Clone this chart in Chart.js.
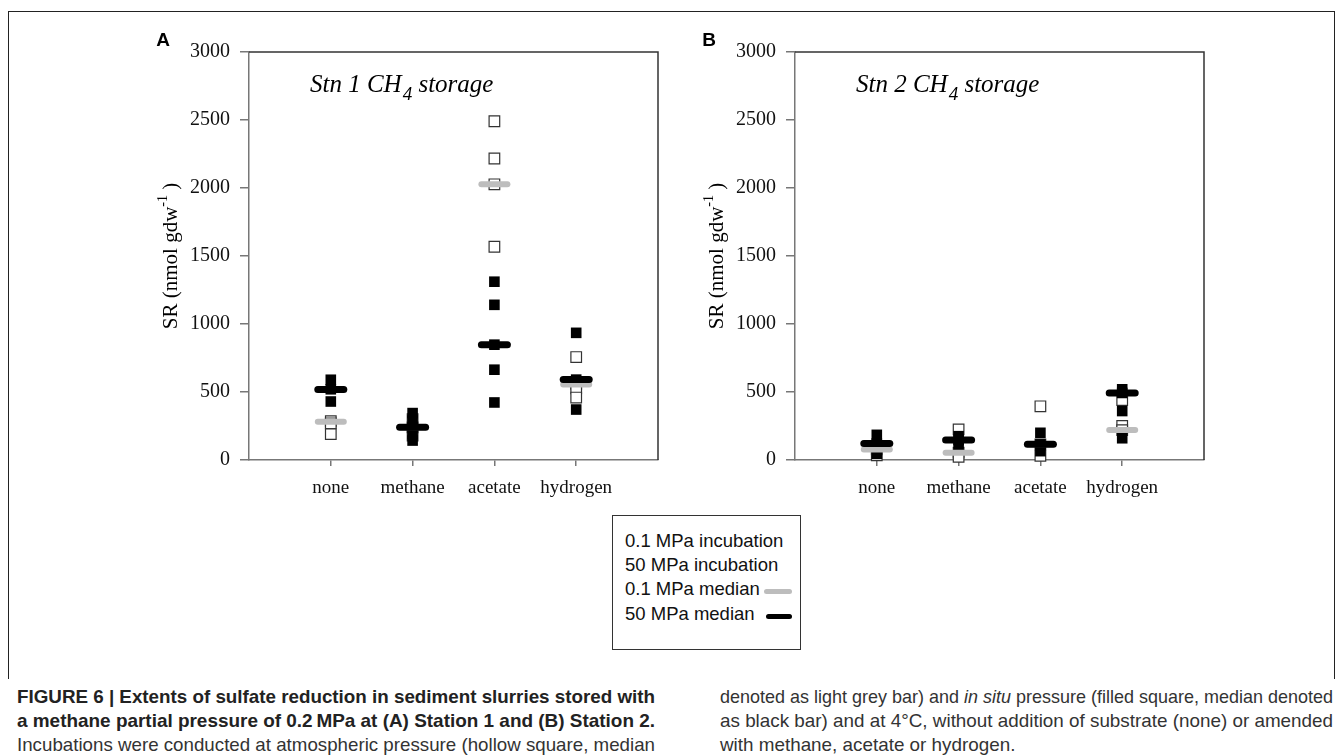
<!DOCTYPE html>
<html>
<head>
<meta charset="utf-8">
<script src="https://cdn.jsdelivr.net/npm/chart.js@4.4.1/dist/chart.umd.min.js"></script>
<style>
  body { margin: 0; background: #fff; width: 1342px; height: 756px; position: relative; overflow: hidden; }
  .frame { position: absolute; left: 8px; top: 11px; width: 1325px; height: 667px; border: 1.5px solid #222; border-bottom: none; }
  .panel { position: absolute; top: 30px; width: 560px; height: 480px; }
  .legend { position: absolute; left: 612px; top: 515px; width: 189px; height: 135px; border: 1px solid #333; box-sizing: border-box; }
  .legend span { position: absolute; left: 12px; font: 18.5px "Liberation Sans", Arial, sans-serif; color: #111; white-space: nowrap; }
  .legend i { position: absolute; height: 5px; border-radius: 3px; }
  .cap { position: absolute; font-family: "Liberation Sans", Arial, sans-serif; font-size: 19px; color: #333; line-height: 24px; }
  .cap span { display: inline-block; white-space: nowrap; transform-origin: 0 0; }
  .cap b { color: #222; }
</style>
</head>
<body>
<div class="frame"></div>
<div class="panel" style="left:120px"><canvas id="chartA"></canvas></div>
<div class="panel" style="left:666px"><canvas id="chartB"></canvas></div>

<div class="legend">
  <span style="top:14px">0.1 MPa incubation</span>
  <span style="top:38px">50 MPa incubation</span>
  <span style="top:62px">0.1 MPa median</span>
  <span style="top:87px">50 MPa median</span>
  <i style="left:151px; top:73px; width:28px; background:#bdbdbd"></i>
  <i style="left:153px; top:98px; width:26px; background:#000"></i>
</div>

<div class="cap" style="left:17px; top:685px" data-w="638">
  <span><b>FIGURE 6 | Extents of sulfate reduction in sediment slurries stored with</b></span><br>
  <span><b>a methane partial pressure of 0.2&#8239;MPa at (A) Station 1 and (B) Station 2.</b></span><br>
  <span>Incubations were conducted at atmospheric pressure (hollow square, median</span>
</div>
<div class="cap" style="left:720px; top:685px" data-w="613">
  <span>denoted as light grey bar) and <i>in situ</i> pressure (filled square, median denoted</span><br>
  <span>as black bar) and at 4°C, without addition of substrate (none) or amended</span><br>
  <span data-last="1">with methane, acetate or hydrogen.</span>
</div>

<script>
const categories = ['none', 'methane', 'acetate', 'hydrogen'];
const yTickValues = [0, 500, 1000, 1500, 2000, 2500, 3000];

// Station 1 (panel A), one list per substrate
const stn1Hollow = [[285, 270, 190], [300, 240, 180], [2491, 2217, 2027, 1568], [757, 560, 527, 459]];
const stn1Filled = [[590, 520, 430], [345, 290, 240, 190, 143], [1311, 1141, 848, 664, 423], [935, 591, 371]];
const stn1GreyMedian = [281, 240, 2027, 555];
const stn1BlackMedian = [518, 240, 848, 591];

// Station 2 (panel B)
const stn2Hollow = [[78, 35], [225, 54, 24], [395, 115, 30], [440, 250, 220]];
const stn2Filled = [[185, 122, 45], [175, 147, 100], [200, 115, 65], [520, 493, 360, 160]];
const stn2GreyMedian = [78, 54, 115, 220];
const stn2BlackMedian = [122, 147, 115, 493];

const serif = '"Liberation Serif", "Times New Roman", serif';

const toPoints = (groups) => groups.flatMap((vals, i) => vals.map((v) => ({ x: i + 1, y: v })));
const toMedians = (vals) => vals.map((v, i) => ({ x: i + 1, y: v }));

// squeeze caption lines to the justified column width (condensed look)
document.querySelectorAll('.cap').forEach((col) => {
    const target = Number(col.dataset.w);
    let last = 0.85;
    col.querySelectorAll('span').forEach((s) => {
        const k = s.dataset.last ? last : target / s.getBoundingClientRect().width;
        s.style.transform = 'scaleX(' + k + ')';
        last = k;
    });
});

const panelDeco = {
    id: 'panelDeco',
    beforeDatasetDraw(chart) {
        chart.ctx.lineCap = 'round';
    },
    afterDatasetDraw(chart) {
        chart.ctx.lineCap = 'butt';
    },
    afterDraw(chart, args, opts) {
        const { ctx, chartArea: a } = chart;
        ctx.save();
        // top and right frame of the plot box
        ctx.strokeStyle = '#333';
        ctx.lineWidth = 1.5;
        ctx.beginPath();
        ctx.moveTo(a.left, a.top);
        ctx.lineTo(a.right, a.top);
        ctx.lineTo(a.right, a.bottom);
        ctx.stroke();

        // panel letter
        ctx.fillStyle = '#000';
        ctx.textBaseline = 'alphabetic';
        ctx.textAlign = 'center';
        ctx.font = 'bold 19px "Liberation Sans", Arial, sans-serif';
        ctx.fillText(opts.letter, a.left - 86, a.top - 6);

        // station title with subscript
        ctx.textAlign = 'left';
        let x = a.left + 61;
        const base = a.top + 40;
        ctx.font = 'italic 25px ' + serif;
        ctx.fillText(opts.title, x, base);
        x += ctx.measureText(opts.title).width + 1;
        ctx.font = 'italic 19px ' + serif;
        ctx.fillText('4', x, base + 8);
        x += ctx.measureText('4').width;
        ctx.font = 'italic 25px ' + serif;
        ctx.fillText(' storage', x, base);

        // y axis title with superscript
        ctx.translate(a.left - 84, (a.top + a.bottom) / 2);
        ctx.rotate(-Math.PI / 2);
        const main = 'SR (nmol gdw';
        ctx.font = '21px ' + serif;
        const w1 = ctx.measureText(main).width;
        ctx.font = '14px ' + serif;
        const w2 = ctx.measureText('-1').width;
        ctx.font = '21px ' + serif;
        const w3 = ctx.measureText(' )').width;
        let tx = -(w1 + w2 + w3) / 2;
        ctx.textBaseline = 'middle';
        ctx.fillText(main, tx, 6);
        tx += w1;
        ctx.font = '14px ' + serif;
        ctx.fillText('-1', tx, -2);
        tx += w2;
        ctx.font = '21px ' + serif;
        ctx.fillText(' )', tx, 6);
        ctx.restore();
    },
};

function makePanel(id, letter, title, hollow, filled, greyMed, blackMed) {
    new Chart(document.getElementById(id), {
        type: 'scatter',
        data: {
            datasets: [
                {
                    label: '50 MPa median',
                    data: toMedians(blackMed),
                    pointStyle: 'line',
                    pointRadius: 13,
                    pointBorderWidth: 7,
                    borderColor: '#000',
                    order: 0,
                },
                {
                    label: '0.1 MPa median',
                    data: toMedians(greyMed),
                    pointStyle: 'line',
                    pointRadius: 13,
                    pointBorderWidth: 6,
                    borderColor: '#bdbdbd',
                    order: 1,
                },
                {
                    label: '50 MPa incubation',
                    data: toPoints(filled),
                    pointStyle: 'rect',
                    pointRadius: 7.5,
                    backgroundColor: '#000',
                    borderColor: '#000',
                    pointBorderWidth: 0,
                    order: 2,
                },
                {
                    label: '0.1 MPa incubation',
                    data: toPoints(hollow),
                    pointStyle: 'rect',
                    pointRadius: 7.5,
                    backgroundColor: '#fff',
                    borderColor: '#333',
                    pointBorderWidth: 1.2,
                    order: 3,
                },
            ],
        },
        options: {
            responsive: true,
            maintainAspectRatio: false,
            animation: false,
            clip: false,
            layout: { padding: { top: 20, right: 22, left: 0, bottom: 0 } },
            plugins: {
                legend: { display: false },
                tooltip: { enabled: false },
                panelDeco: { letter, title },
            },
            scales: {
                x: {
                    type: 'linear',
                    min: 0,
                    max: 5,
                    afterBuildTicks: (s) => {
                        s.ticks = categories.map((c, i) => ({ value: i + 1 }));
                    },
                    afterFit: (s) => {
                        s.height = 50;
                    },
                    ticks: {
                        callback: (v) => categories[v - 1],
                        font: { family: serif, size: 19 },
                        color: '#111',
                        padding: 11,
                        maxRotation: 0,
                        autoSkip: false,
                    },
                    grid: { drawOnChartArea: false, tickLength: 6, color: '#777', lineWidth: 1.5 },
                    border: { color: '#777', width: 1.5 },
                },
                y: {
                    min: 0,
                    max: 3000,
                    afterBuildTicks: (s) => {
                        s.ticks = yTickValues.map((v) => ({ value: v }));
                    },
                    afterFit: (s) => {
                        s.width = 129;
                    },
                    ticks: {
                        callback: (v) => String(v),
                        font: { family: serif, size: 20 },
                        color: '#111',
                        padding: 10,
                    },
                    grid: { drawOnChartArea: false, tickLength: 9, color: '#777', lineWidth: 1.5 },
                    border: { color: '#777', width: 1.5 },
                },
            },
        },
        plugins: [panelDeco],
    });
}

makePanel('chartA', 'A', 'Stn 1 CH', stn1Hollow, stn1Filled, stn1GreyMedian, stn1BlackMedian);
makePanel('chartB', 'B', 'Stn 2 CH', stn2Hollow, stn2Filled, stn2GreyMedian, stn2BlackMedian);
</script>
</body>
</html>
